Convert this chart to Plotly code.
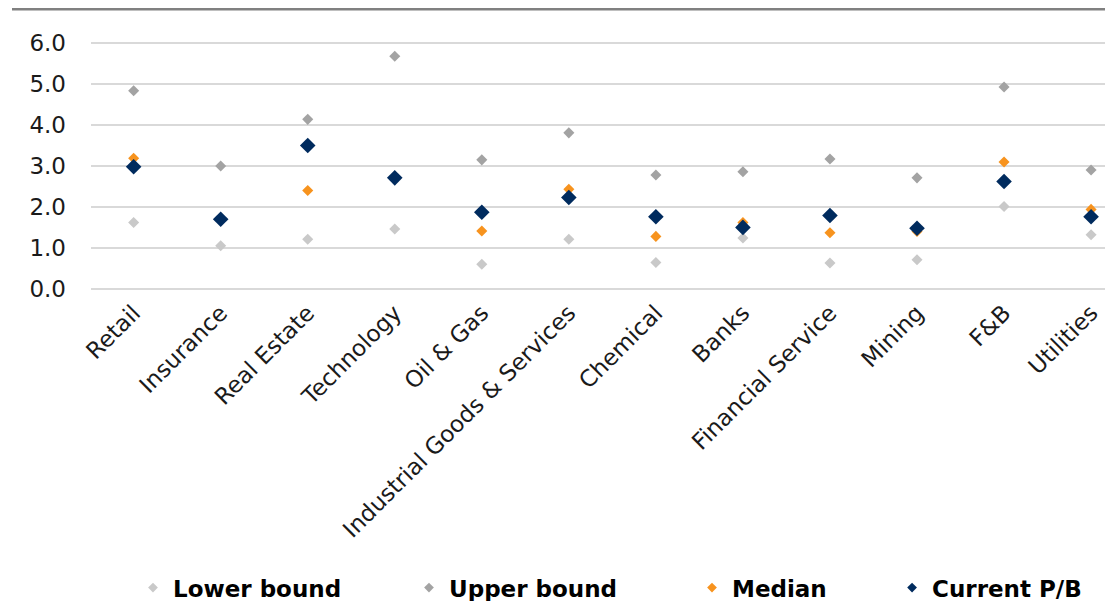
import plotly.graph_objects as go

categories = ["Retail", "Insurance", "Real Estate", "Technology", "Oil & Gas",
              "Industrial Goods & Services", "Chemical", "Banks", "Financial Service",
              "Mining", "F&B", "Utilities"]
lower_bound = [1.62, 1.05, 1.21, 1.46, 0.60, 1.21, 0.64, 1.24, 0.63, 0.71, 2.01, 1.32]
upper_bound = [4.84, 3.00, 4.14, 5.68, 3.15, 3.81, 2.78, 2.86, 3.17, 2.71, 4.93, 2.90]
median = [3.19, 1.70, 2.40, 2.71, 1.41, 2.43, 1.28, 1.62, 1.37, 1.40, 3.10, 1.94]
current_pb = [2.98, 1.70, 3.50, 2.71, 1.87, 2.23, 1.76, 1.50, 1.79, 1.48, 2.62, 1.76]
y_ticks = [0, 1, 2, 3, 4, 5, 6]
y_tick_labels = ["0.0", "1.0", "2.0", "3.0", "4.0", "5.0", "6.0"]

series = [
    ("Lower bound", lower_bound, "#C9C9C9", 8.5, "legend"),
    ("Upper bound", upper_bound, "#A3A3A3", 8.5, "legend2"),
    ("Median", median, "#F7931E", 8.5, "legend3"),
    ("Current P/B", current_pb, "#002B5E", 12, "legend4"),
]

FONT = "DejaVu Sans"
fig = go.Figure()
for name, vals, color, size, lg in series:
    fig.add_trace(go.Scatter(
        x=categories, y=vals, mode="markers", name=name, showlegend=False,
        marker=dict(symbol="diamond", size=size, color=color, line=dict(width=0)),
        cliponaxis=False,
    ))
    # legend proxy with small marker
    fig.add_trace(go.Scatter(
        x=[None], y=[None], mode="markers", name=name, legend=lg, showlegend=True,
        marker=dict(symbol="diamond", size=7.5, color=color, line=dict(width=0)),
    ))

legend_x = [0.0414, 0.3136, 0.5927, 0.79]
legend_common = dict(orientation="h", yanchor="middle", y=-1.2, xanchor="left",
                     bgcolor="rgba(0,0,0,0)", borderwidth=0,
                     font=dict(family=FONT, size=23, color="#000000", weight="bold"))
layout_legends = {}
for i, key in enumerate(["legend", "legend2", "legend3", "legend4"]):
    layout_legends[key] = dict(x=legend_x[i], **legend_common)

fig.update_layout(
    width=1105, height=601,
    margin=dict(l=91, r=0, t=42, b=311, pad=0, autoexpand=False),
    paper_bgcolor="white", plot_bgcolor="white",
    font=dict(family=FONT, size=23, color="#1a1a1a"),
    xaxis=dict(
        type="category", range=[-0.49, 11.16], showgrid=False, zeroline=False,
        showline=False, tickangle=-45, ticks="", ticklabelstandoff=4,
        tickfont=dict(family=FONT, size=23, color="#1a1a1a"),
    ),
    yaxis=dict(
        range=[-0.03, 6.03], tickvals=y_ticks, ticktext=y_tick_labels,
        showgrid=True, gridcolor="#D9D9D9", gridwidth=2, zeroline=False,
        showline=False, ticks="", ticklabelstandoff=24,
        tickfont=dict(family=FONT, size=23, color="#1a1a1a"),
    ),
    shapes=[dict(type="line", xref="paper", yref="paper",
                 x0=(12 - 91) / 1014, x1=1.0, y0=(290 - 9.3) / 248, y1=(290 - 9.3) / 248,
                 line=dict(color="#808080", width=2.5))],
    **layout_legends,
)

fig.write_html("out.html", config={"displayModeBar": False},
               post_script="document.body.style.margin='0';document.body.style.overflow='hidden';")
